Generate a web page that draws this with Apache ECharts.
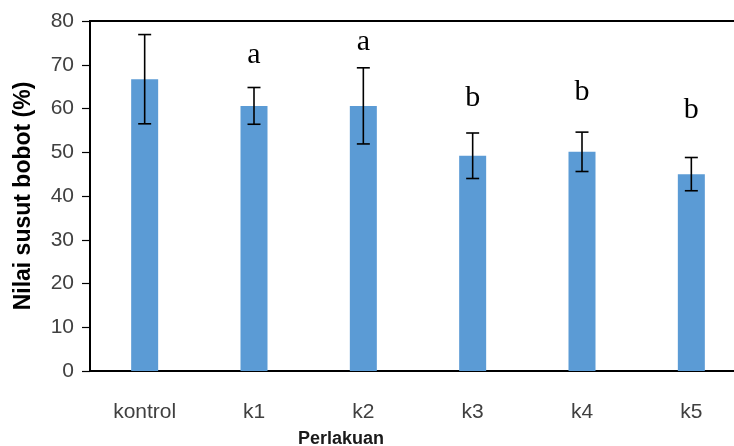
<!DOCTYPE html>
<html>
<head>
<meta charset="utf-8">
<script src="https://cdn.jsdelivr.net/npm/echarts@6/dist/echarts.min.js"></script>
<style>
html,body{margin:0;padding:0;background:#fff;}
#chart{width:734px;height:446px;}
</style>
</head>
<body>
<div id="chart"></div>
<script>
var categories = ['kontrol', 'k1', 'k2', 'k3', 'k4', 'k5'];
var means = [66.7, 60.6, 60.6, 49.2, 50.1, 45.0];
var errors = [10.2, 4.2, 8.7, 5.2, 4.5, 3.8];
var letters = ['', 'a', 'a', 'b', 'b', 'b'];
var letterY = [null, 72.2, 75.2, 62.4, 63.8, 59.7];
var yTicks = [0, 10, 20, 30, 40, 50, 60, 70, 80];

var chart = echarts.init(document.getElementById('chart'), null, {renderer: 'canvas'});

var errData = categories.map(function (c, i) { return [i, means[i] - errors[i], means[i] + errors[i]]; });
var letterData = categories.map(function (c, i) { return [i, letterY[i], letters[i]]; }).filter(function (d) { return d[2] !== ''; });

var option = {
  animation: false,
  backgroundColor: '#ffffff',
  grid: {left: 90, top: 21, width: 656, height: 350, outerBoundsMode: 'none', containLabel: false,
         show: true, borderColor: '#000', borderWidth: 2, backgroundColor: 'transparent'},
  title: {
    text: 'Perlakuan', left: 336, top: 425, textAlign: 'center',
    textStyle: {fontFamily: 'Liberation Sans', fontSize: 18, fontWeight: 'bold', color: '#1a1a1a'}
  },
  xAxis: {
    type: 'category', data: categories,
    axisLine: {lineStyle: {color: '#000', width: 1.5}},
    axisTick: {show: false},
    axisLabel: {fontFamily: 'Liberation Sans', fontSize: 21, color: '#404040', margin: 31}
  },
  yAxis: {
    type: 'value', min: yTicks[0], max: yTicks[yTicks.length - 1], interval: 10,
    name: 'Nilai susut bobot (%)', nameLocation: 'middle', nameGap: 55,
    nameTextStyle: {fontFamily: 'Liberation Sans', fontSize: 23, fontWeight: 'bold', color: '#000'},
    axisLine: {show: true, lineStyle: {color: '#000', width: 1.5}},
    axisTick: {show: true, length: 8, lineStyle: {color: '#000', width: 1.2}},
    splitLine: {show: false},
    axisLabel: {fontFamily: 'Liberation Sans', fontSize: 21, color: '#404040', margin: 16}
  },
  series: [
    {
      type: 'bar', data: means, barWidth: 27,
      itemStyle: {color: '#5B9BD5'}
    },
    {
      type: 'custom', data: errData, z: 10,
      renderItem: function (params, api) {
        var x = api.value(0);
        var lo = api.coord([x, api.value(1)]);
        var hi = api.coord([x, api.value(2)]);
        var hw = 6.5;
        var st = {stroke: '#000', lineWidth: 1.6};
        return {
          type: 'group',
          children: [
            {type: 'line', shape: {x1: lo[0], y1: lo[1], x2: hi[0], y2: hi[1]}, style: st},
            {type: 'line', shape: {x1: lo[0] - hw, y1: lo[1], x2: lo[0] + hw, y2: lo[1]}, style: st},
            {type: 'line', shape: {x1: hi[0] - hw, y1: hi[1], x2: hi[0] + hw, y2: hi[1]}, style: st}
          ]
        };
      }
    },
    {
      type: 'custom', data: letterData, z: 11,
      renderItem: function (params, api) {
        var p = api.coord([api.value(0), api.value(1)]);
        return {
          type: 'text',
          style: {
            text: letterData[params.dataIndex][2], x: p[0], y: p[1],
            align: 'center', verticalAlign: 'middle',
            font: '30px "Liberation Serif"', fill: '#000'
          }
        };
      }
    }
  ]
};
chart.setOption(option);
</script>
</body>
</html>
